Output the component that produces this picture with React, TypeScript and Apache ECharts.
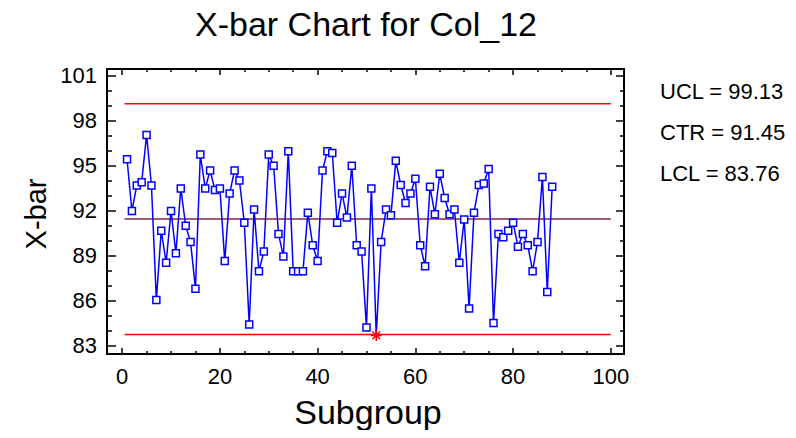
import React, { useEffect, useRef } from "react";
import * as echarts from "echarts";

const subgroupValues: number[] = [
  95.44, 91.99, 93.69, 93.91, 97.06, 93.69, 86.05, 90.68, 88.54, 91.99,
  89.18, 93.49, 91.01, 89.93, 86.81, 95.75, 93.49, 94.69, 93.38, 93.49,
  88.65, 93.16, 94.69, 94.02, 91.21, 84.42, 92.08, 87.98, 89.29, 95.75,
  95.0, 90.46, 88.96, 95.97, 87.98, 87.98, 87.98, 91.88, 89.71, 88.65,
  94.69, 95.97, 95.86, 91.21, 93.16, 91.55, 95.0, 89.71, 89.29, 84.22,
  93.49, 83.7, 89.93, 92.08, 91.7, 95.33, 93.72, 92.52, 93.16, 94.14,
  89.71, 88.31, 93.6, 91.77, 94.47, 92.85, 91.77, 92.08, 88.54, 91.43,
  85.5, 91.88, 93.72, 93.82, 94.78, 84.53, 90.46, 90.24, 90.68, 91.21,
  89.6, 90.46, 89.71, 87.98, 89.93, 94.25, 86.59, 93.6,
];

const UCL = 99.13;
const CTR = 91.45;
const LCL = 83.76;
const limitSpan: number[] = [0.5, 100];

const xMajorTicks: number[] = [0, 20, 40, 60, 80, 100];
const xMinorTicks: number[] = [5, 10, 15, 25, 30, 35, 45, 50, 55, 65, 70, 75, 85, 90, 95];
const yMajorTicks: number[] = [83, 86, 89, 92, 95, 98, 101];
const yMinorTicks: number[] = [84, 85, 87, 88, 90, 91, 93, 94, 96, 97, 99, 100];

const FONT = "'Liberation Sans', Arial, sans-serif";
const STAR = "path://M5 0 L5 10 M0 5 L10 5 M1.5 1.5 L8.5 8.5 M8.5 1.5 L1.5 8.5";

export default function App() {
  const ref = useRef<HTMLDivElement>(null);
  useEffect(() => {
    if (!ref.current) return;
    const chart = echarts.init(ref.current, undefined, { renderer: "svg" });
    const xMin = -3.1, xMax = 102.7, yMin = 82.46, yMax = 101.45;

    const pointData = subgroupValues.map((v, i) => {
      const out = v < LCL || v > UCL;
      if (out) {
        return {
          value: [i + 1, v],
          symbol: STAR,
          symbolSize: 11,
          itemStyle: { color: "#ff0000", borderColor: "#ff0000", borderWidth: 1.5 },
        };
      }
      return { value: [i + 1, v] };
    });

    const mkX = (pos: string, vals: number[], len: number, labels: boolean) => ({
      type: "value",
      gridIndex: 0,
      position: pos,
      offset: 0,
      min: xMin,
      max: xMax,
      axisLine: { show: false, onZero: false },
      splitLine: { show: false },
      axisTick: {
        show: true,
        inside: true,
        length: len,
        customValues: vals,
        lineStyle: { color: "#000", width: 1.5 },
      },
      axisLabel: labels
        ? { show: true, customValues: vals, fontSize: 22, color: "#000", fontFamily: FONT, margin: 11 }
        : { show: false },
    });
    const mkY = (pos: string, vals: number[], len: number, labels: boolean) => ({
      type: "value",
      gridIndex: 0,
      position: pos,
      offset: 0,
      min: yMin,
      max: yMax,
      axisLine: { show: false, onZero: false },
      splitLine: { show: false },
      axisTick: {
        show: true,
        inside: true,
        length: len,
        customValues: vals,
        lineStyle: { color: "#000", width: 1.5 },
      },
      axisLabel: labels
        ? { show: true, customValues: vals, fontSize: 22, color: "#000", fontFamily: FONT, margin: 10 }
        : { show: false },
    });

    const limitLine = (name: string, val: number, color: string) => ({
      name,
      type: "line",
      xAxisIndex: 0,
      yAxisIndex: 0,
      data: limitSpan.map((x) => [x, val]),
      showSymbol: false,
      symbol: "none",
      lineStyle: { color, width: 1.5 },
      z: 1,
      silent: true,
    });

    chart.setOption({
      animation: false,
      backgroundColor: "#fff",
      grid: {
        left: 107,
        top: 69,
        width: 517,
        height: 285,
        show: true,
        borderColor: "#000",
        borderWidth: 2,
        backgroundColor: "transparent",
      },
      xAxis: [
        mkX("bottom", xMajorTicks, 6, true),
        mkX("bottom", xMinorTicks, 3, false),
        mkX("top", xMajorTicks, 6, false),
        mkX("top", xMinorTicks, 3, false),
      ],
      yAxis: [
        mkY("left", yMajorTicks, 9, true),
        mkY("left", yMinorTicks, 5, false),
        mkY("right", yMajorTicks, 8, false),
        mkY("right", yMinorTicks, 4, false),
      ],
      graphic: [
        {
          type: "text",
          x: 366,
          y: 24,
          style: { text: "X-bar Chart for Col_12", font: `34px ${FONT}`, fill: "#000", align: "center", verticalAlign: "middle" },
        },
        {
          type: "text",
          x: 368,
          y: 412,
          style: { text: "Subgroup", font: `34px ${FONT}`, fill: "#000", align: "center", verticalAlign: "middle" },
        },
        {
          type: "text",
          x: 36,
          y: 214,
          rotation: Math.PI / 2,
          style: { text: "X-bar", font: `29px ${FONT}`, fill: "#000", align: "center", verticalAlign: "middle" },
        },
        {
          type: "text",
          x: 660,
          y: 91,
          style: { text: `UCL = ${UCL.toFixed(2)}`, font: `22px ${FONT}`, fill: "#000", align: "left", verticalAlign: "middle" },
        },
        {
          type: "text",
          x: 660,
          y: 132,
          style: { text: `CTR = ${CTR.toFixed(2)}`, font: `22px ${FONT}`, fill: "#000", align: "left", verticalAlign: "middle" },
        },
        {
          type: "text",
          x: 660,
          y: 173,
          style: { text: `LCL = ${LCL.toFixed(2)}`, font: `22px ${FONT}`, fill: "#000", align: "left", verticalAlign: "middle" },
        },
      ],
      series: [
        limitLine("UCL", UCL, "#ff0000"),
        limitLine("CTR", CTR, "#86204e"),
        limitLine("LCL", LCL, "#ff0000"),
        {
          name: "X-bar",
          type: "line",
          xAxisIndex: 0,
          yAxisIndex: 0,
          data: pointData,
          symbol: "rect",
          symbolSize: 7,
          showAllSymbol: true,
          lineStyle: { color: "#0000ff", width: 1.5 },
          itemStyle: { color: "#ffffff", borderColor: "#0000ff", borderWidth: 1.5 },
          z: 3,
        },
      ],
    });
    return () => chart.dispose();
  }, []);
  return <div ref={ref} style={{ width: 796, height: 438, margin: -8 }} />;
}
